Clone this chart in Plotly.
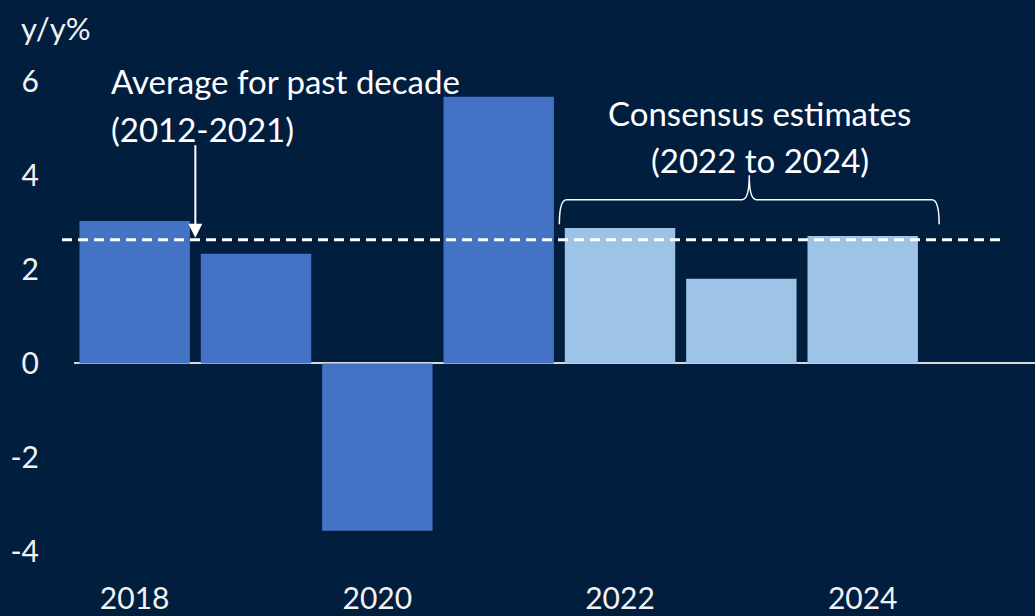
import plotly.graph_objects as go

years = [2018, 2019, 2020, 2021, 2022, 2023, 2024]
growth = [3.03, 2.33, -3.56, 5.67, 2.88, 1.80, 2.71]
is_estimate = [False, False, False, False, True, True, True]
decade_avg = 2.63
y_ticks = [-4, -2, 0, 2, 4, 6]
x_ticks = [2018, 2020, 2022, 2024]

BG = "#021e3f"
DARK = "#4472c4"
LIGHT = "#9dc3e6"
FONT = "Lato"

colors = [LIGHT if e else DARK for e in is_estimate]

fig = go.Figure()
fig.add_trace(go.Bar(x=years, y=growth, marker=dict(color=colors, line=dict(width=0)),
                     width=0.91, hoverinfo="x+y"))

fig.update_layout(
    width=1035, height=616,
    paper_bgcolor=BG, plot_bgcolor=BG,
    margin=dict(l=74, r=0, t=53, b=41),
    showlegend=False,
    font=dict(family=FONT, color="#ffffff", size=30),
    xaxis=dict(range=[2017.5, 2025.42], tickvals=x_ticks, ticktext=[str(v) for v in x_ticks],
               showgrid=False, zeroline=False, showline=False, ticks="",
               tickfont=dict(size=30, color="#f2f2f2"), ticklabelstandoff=3),
    yaxis=dict(range=[-4.5, 6.6], tickvals=y_ticks, ticktext=[str(v) for v in y_ticks],
               showgrid=False, zeroline=True, zerolinecolor="#d9d9d9", zerolinewidth=2,
               showline=False, ticks="", tickfont=dict(size=30, color="#f2f2f2"),
               ticklabelstandoff=34),
)

# dashed average line
fig.add_shape(type="line", xref="paper", yref="y", x0=-0.0125, x1=0.969,
              y0=decade_avg, y1=decade_avg,
              line=dict(color="#ffffff", width=3, dash="10px,6px"), layer="above")

# axis unit label
fig.add_annotation(text="y/y%", xref="paper", yref="paper", x=-0.0187, y=1.048,
                   xanchor="center", yanchor="middle", showarrow=False,
                   font=dict(size=31, color="#f2f2f2"))

# average annotation text
fig.add_annotation(text="Average for past decade", xref="x", yref="y",
                   x=2017.79, y=6.0, xanchor="left", yanchor="middle", showarrow=False,
                   font=dict(size=33, color="#ffffff"))
fig.add_annotation(text="(2012-2021)", xref="x", yref="y",
                   x=2017.79, y=4.98, xanchor="left", yanchor="middle", showarrow=False,
                   font=dict(size=33, color="#ffffff"))
# arrow
fig.add_annotation(text="", x=2018.5, y=decade_avg, xref="x", yref="y",
                   ax=0, ay=-96, axref="pixel", ayref="pixel", showarrow=True,
                   arrowhead=2, arrowsize=1.4, arrowwidth=2, arrowcolor="#ffffff",
                   standoff=2)

# consensus annotation text
fig.add_annotation(text="Consensus estimates", xref="x", yref="y",
                   x=2023.15, y=5.33, xanchor="center", yanchor="middle", showarrow=False,
                   font=dict(size=33, color="#ffffff"))
fig.add_annotation(text="(2022 to 2024)", xref="x", yref="y",
                   x=2023.15, y=4.33, xanchor="center", yanchor="middle", showarrow=False,
                   font=dict(size=33, color="#ffffff"))

# curly brace
xl, xr, xm = 2021.50, 2024.63, 2023.065
yb, yh, yp = 2.96, 3.48, 4.0
dx = 0.06
path = (f"M {xl},{yb} Q {xl},{yh} {xl+dx},{yh} L {xm-dx},{yh} "
        f"Q {xm},{yh} {xm},{yp} Q {xm},{yh} {xm+dx},{yh} L {xr-dx},{yh} "
        f"Q {xr},{yh} {xr},{yb}")
fig.add_shape(type="path", path=path, xref="x", yref="y",
              line=dict(color="#ffffff", width=1.5), layer="above")

fig.write_html("out.html")
